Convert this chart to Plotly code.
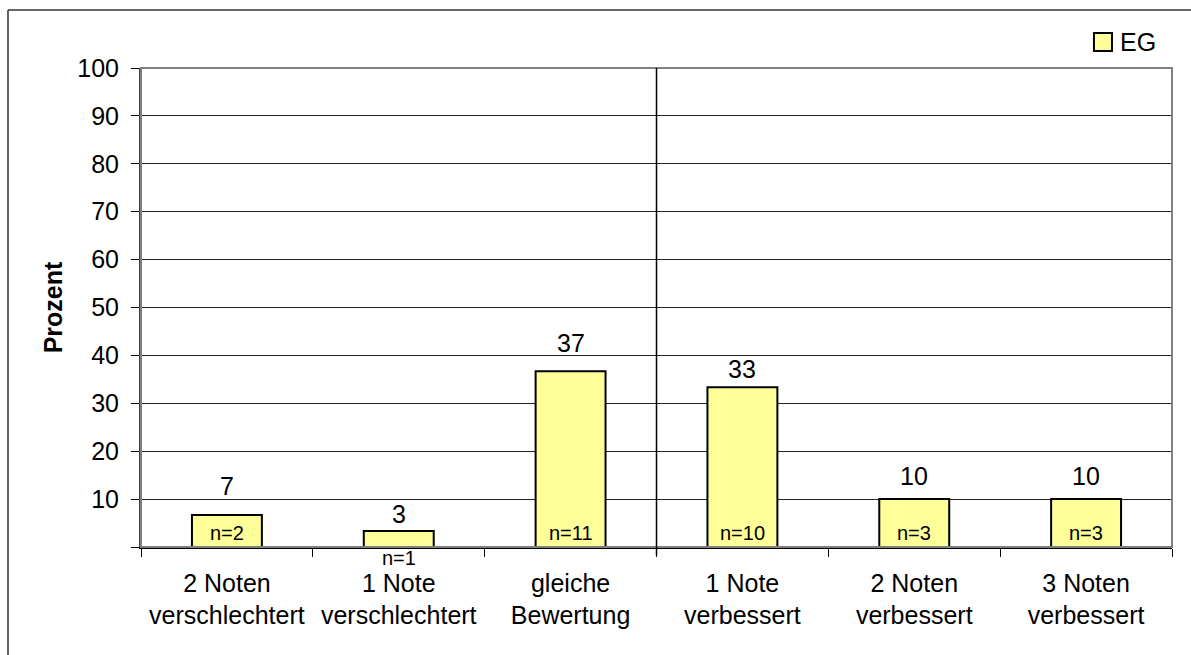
import plotly.graph_objects as go

# Notenveränderung der Experimentalgruppe (EG)
categories = [
    "2 Noten<br>verschlechtert",
    "1 Note<br>verschlechtert",
    "gleiche<br>Bewertung",
    "1 Note<br>verbessert",
    "2 Noten<br>verbessert",
    "3 Noten<br>verbessert",
]
percent = [6.67, 3.33, 36.67, 33.33, 10.0, 10.0]
counts = [2, 1, 11, 10, 3, 3]
y_ticks = [0, 10, 20, 30, 40, 50, 60, 70, 80, 90, 100]
y_ticktext = ["" if v == 0 else str(v) for v in y_ticks]

# gap (px) between each value label and the top of its bar
label_gap = [20, 8, 19, 9, 14, 14]

FONT = "Liberation Sans, Arial, sans-serif"
BAR_FILL = "#FFFF99"

fig = go.Figure()
fig.add_trace(go.Bar(
    x=categories,
    y=percent,
    width=0.407,
    marker=dict(color=BAR_FILL, line=dict(color="#000000", width=2)),
    showlegend=False,
    hoverinfo="skip",
))

annotations = []
for cat, val, n, gap in zip(categories, percent, counts, label_gap):
    # rounded percentage above the bar
    annotations.append(dict(
        x=cat, y=val, xref="x", yref="y", text=f"{val:.0f}",
        showarrow=False, yanchor="bottom", yshift=gap - 7,
        font=dict(family=FONT, size=25, color="#000000"),
    ))
    # sample size inside the bar, or just below the axis for short bars
    inside = val >= 5
    annotations.append(dict(
        x=cat, y=0, xref="x", yref="y", text=f"n={n}",
        showarrow=False,
        yanchor="bottom" if inside else "top",
        yshift=1 if inside else 2,
        font=dict(family=FONT, size=20, color="#000000"),
    ))

# legend entry
annotations.append(dict(
    x=0.9476, y=1.0543, xref="paper", yref="paper", text="EG",
    showarrow=False, xanchor="left", yanchor="middle",
    font=dict(family=FONT, size=25, color="#000000"),
))

border = dict(color="#333333", width=1.5)
shapes = [
    # plot area frame
    dict(type="rect", xref="paper", yref="paper", x0=0, x1=1, y0=0, y1=1,
         line=dict(color="#808080", width=2), layer="above"),
    # divider between worse/equal and improved grades
    dict(type="line", xref="x", yref="paper", x0=2.5, x1=2.5, y0=-0.017, y1=1,
         line=dict(color="#000000", width=1.5), layer="above"),
    # legend swatch
    dict(type="rect", xref="paper", yref="paper", x0=0.9243, x1=0.9418,
         y0=1.0355, y1=1.0731, fillcolor=BAR_FILL,
         line=dict(color="#000000", width=2), layer="above"),
    # chart border (top and left edges)
    dict(type="line", xref="paper", yref="paper", x0=-0.129, x1=1.1,
         y0=1.121, y1=1.121, line=border, layer="above"),
    dict(type="line", xref="paper", yref="paper", x0=-0.129, x1=-0.129,
         y0=-0.3, y1=1.121, line=border, layer="above"),
]

fig.update_layout(
    width=1191,
    height=655,
    margin=dict(l=141, r=19, t=68, b=108),
    plot_bgcolor="white",
    paper_bgcolor="white",
    font=dict(family=FONT, size=25, color="#000000"),
    annotations=annotations,
    shapes=shapes,
    xaxis=dict(
        type="category",
        range=[-0.5, 5.5],
        tickson="boundaries",
        ticks="outside",
        ticklen=8,
        tickcolor="#000000",
        tickwidth=1,
        showline=True,
        linecolor="#000000",
        linewidth=1.5,
        showgrid=False,
        tickfont=dict(family=FONT, size=25, color="#000000"),
        ticklabelstandoff=13,
    ),
    yaxis=dict(
        range=[0, 100],
        tickvals=y_ticks,
        ticktext=y_ticktext,
        ticks="outside",
        ticklen=8,
        tickcolor="#000000",
        tickwidth=1,
        showline=True,
        linecolor="#404040",
        linewidth=2,
        showgrid=True,
        gridcolor="#222222",
        gridwidth=1,
        zeroline=False,
        tickfont=dict(family=FONT, size=25, color="#000000"),
        ticklabelstandoff=7,
        title=dict(text="<b>Prozent</b>", font=dict(family=FONT, size=25, color="#000000"),
                   standoff=8),
    ),
)

fig.write_html("out.html")
